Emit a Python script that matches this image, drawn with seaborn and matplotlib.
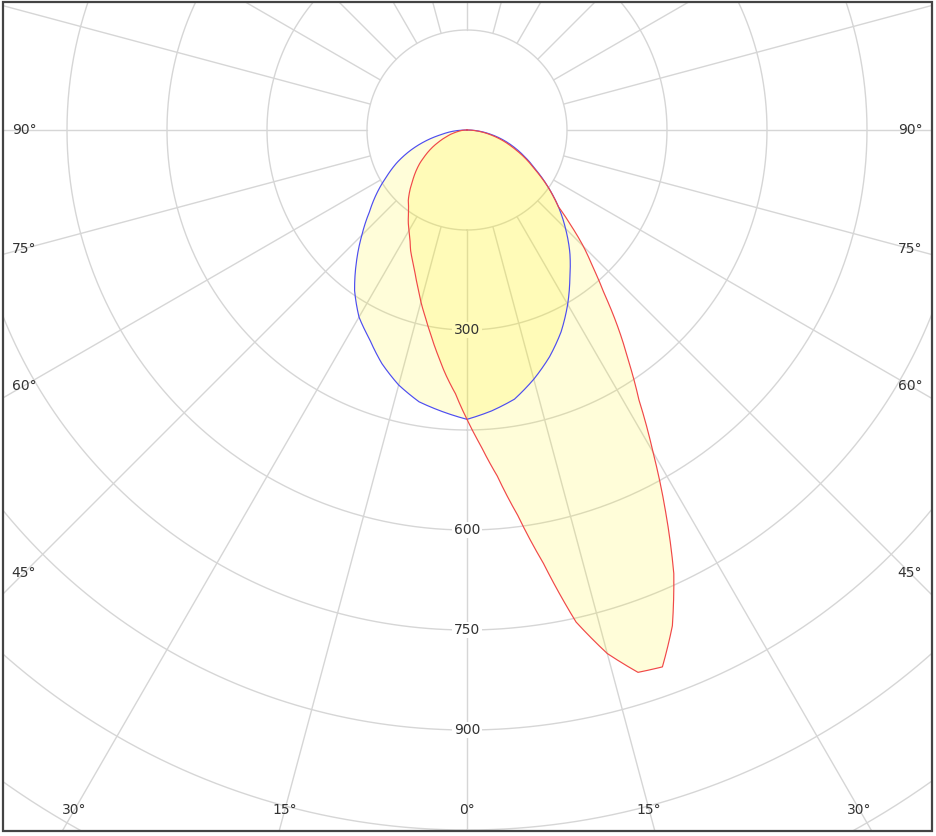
import numpy as np
import matplotlib
matplotlib.use('Agg')
import matplotlib.pyplot as plt
import matplotlib.colors as mcolors
import seaborn as sns
from matplotlib.patches import Rectangle

# gamma angles (deg, 0 = straight down, positive = right side) and intensities (cd)
gamma_c0 = np.arange(-90, 90.1, 5)
cd_c0 = [0, 21, 39, 65, 91, 116, 139, 165, 191, 223, 258, 294, 324, 346, 373, 396, 414, 424,
         434,
         423, 410, 387, 362, 334, 302, 269, 240, 209, 179, 148, 119, 96, 75, 55, 35, 17, 0]

gamma_c90 = np.arange(-90, 90.1, 2.5)
cd_c90 = [0, 4, 8, 11, 15, 20, 26, 31, 38, 45, 53, 61, 69, 77, 86, 94, 102, 110,
          119, 128, 137, 144, 153, 164, 174, 185, 200, 213, 228, 246, 267, 288, 312, 339, 368, 396,
          434,
          474, 521, 583, 660, 756, 813, 853, 857, 805, 734, 645, 558, 480, 422, 371, 320, 280,
          247, 211, 179, 163, 148, 132, 117, 105, 93, 81, 70, 60, 50, 40, 31, 22, 14, 7, 0]

ring_values = [150, 300, 450, 600, 750, 900, 1050, 1200]
ring_labels = [300, 600, 750, 900]
spoke_angles = np.arange(0, 360, 15)
side_angles = [45, 60, 75, 90]
bottom_angles = [0, 15, 30]

sns.set_style('white')
plt.rcParams['font.family'] = ['DejaVu Sans']

W, H = 936, 836
fig = plt.figure(figsize=(W / 100, H / 100), dpi=100)

# polar centre sits near the top of the picture, 100 px per 150 cd
cx, cy = 467, 130
cd_per_px = 1.5
rmax = 1350
rpx = rmax / cd_per_px
ax = fig.add_axes([(cx - rpx) / W, (H - cy - rpx) / H, 2 * rpx / W, 2 * rpx / H],
                  projection='polar')
ax.set_theta_zero_location('S')
ax.set_theta_direction(1)
ax.set_ylim(0, rmax)
ax.set_xticks([])
ax.set_yticks([])
ax.grid(False)
ax.spines['polar'].set_visible(False)

grid_col = '#d6d6d6'
circ = np.linspace(0, 2 * np.pi, 721)
for r in ring_values:
    ax.plot(circ, np.full_like(circ, r), color=grid_col, lw=1.0, zorder=1)
for a in spoke_angles:
    t = np.deg2rad(a)
    ax.plot([t, t], [150, rmax], color=grid_col, lw=1.0, zorder=1)

fill_col = '#fff200'
fill_alpha = 0.15
txt_col = '#333333'

# label background = colour of the fills stacked at that spot
for v in ring_labels:
    layers = int(v < cd_c0[list(gamma_c0).index(0)]) + int(v < cd_c90[list(gamma_c90).index(0)])
    bg = np.array([1.0, 1.0, 1.0])
    for _ in range(layers):
        bg = bg * (1 - fill_alpha) + np.array(mcolors.to_rgb(fill_col)) * fill_alpha
    ax.text(0, v, str(v), ha='center', va='center', fontsize=10, color=txt_col, zorder=6,
            bbox=dict(facecolor=bg, edgecolor='none', pad=1.0))

for a in side_angles:
    r = 443 * cd_per_px / np.sin(np.deg2rad(a))
    for s in (-1, 1):
        ax.text(np.deg2rad(s * a), r, f'{a}°', ha='center', va='center',
                fontsize=10, color=txt_col, zorder=3)
for a in bottom_angles:
    r = 680 * cd_per_px / np.cos(np.deg2rad(a))
    for s in ((1,) if a == 0 else (-1, 1)):
        ax.text(np.deg2rad(s * a), r, f'{a}°', ha='center', va='center',
                fontsize=10, color=txt_col, zorder=3)

th0 = np.deg2rad(gamma_c0)
th90 = np.deg2rad(gamma_c90)
polys = ax.fill(th0, cd_c0, color=fill_col, alpha=fill_alpha, lw=0, zorder=4)
polys += ax.fill(th90, cd_c90, color=fill_col, alpha=fill_alpha, lw=0, zorder=4)
sns.lineplot(x=th0, y=cd_c0, ax=ax, sort=False, estimator=None, color='#4d4df0', lw=0.85, zorder=5)
sns.lineplot(x=th90, y=cd_c90, ax=ax, sort=False, estimator=None, color='#f04848', lw=0.85, zorder=5)
ax.set_xlabel('')
ax.set_ylabel('')

# draw the curves as polar arcs between the read points
for art in polys + ax.lines[-2:]:
    art.get_path()._interpolation_steps = 12

# white margins and dark frame
for rect in [(0, 0, 3 / W, 1), (932 / W, 0, 1, 1), (0, 0, 1, 5 / H), (0, 1 - 2 / H, 1, 1)]:
    fig.patches.append(Rectangle(rect[:2], rect[2], rect[3], transform=fig.transFigure,
                                 facecolor='white', edgecolor='none', zorder=9))
fig.patches.append(Rectangle((3 / W, 5 / H), 929 / W, (H - 7) / H, transform=fig.transFigure,
                             fill=False, edgecolor='#444444', lw=1.6, zorder=10))

fig.savefig('out.png', dpi=100)
